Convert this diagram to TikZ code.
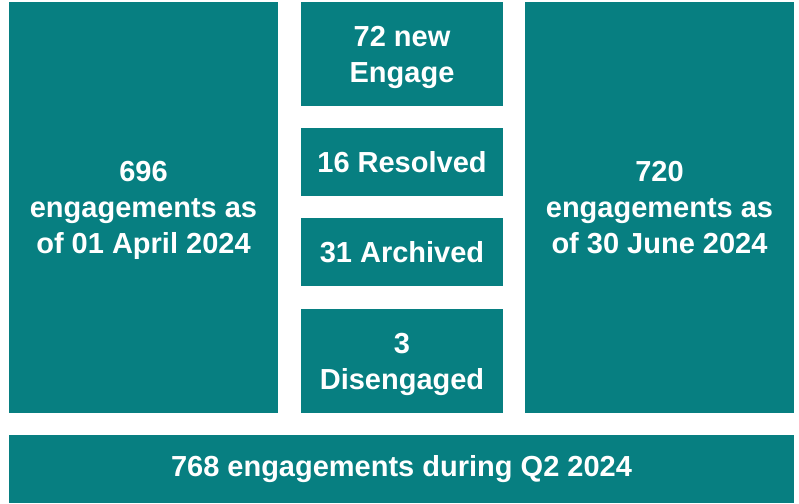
\documentclass[tikz,border=0pt]{standalone}
\usepackage{fontspec}
\setmainfont{Liberation Sans}
\definecolor{teal1}{HTML}{077F81}
\newcommand{\nodp}[1]{\raisebox{0pt}[\height][0pt]{#1}}
\begin{document}
\begin{tikzpicture}[x=1pt,y=-1pt,
  box/.style={fill=teal1, draw=none, inner sep=0pt, outer sep=0pt, align=center,
    text=white, font=\fontsize{29}{36}\selectfont\bfseries, anchor=center}]
\useasboundingbox (0,0) rectangle (799,503);
\node[box, minimum width=269pt, minimum height=411pt] (start) at (143.5,207.5) {696\\engagements as\\\nodp{of 01 April 2024}};
\node[box, minimum width=202pt, minimum height=104pt] (new) at (402,54) {72 new\\\nodp{Engage}};
\node[box, minimum width=202pt, minimum height=68pt] (res) at (402,162) {16 Resolved};
\node[box, minimum width=202pt, minimum height=68pt] (arch) at (402,252) {31 Archived};
\node[box, minimum width=202pt, minimum height=104pt] (dis) at (402,361) {3\\\nodp{Disengaged}};
\node[box, minimum width=269pt, minimum height=411pt] (end) at (659.5,207.5) {720\\engagements as\\of 30 June 2024};
\node[box, minimum width=785pt, minimum height=68pt] (total) at (401.5,469) {768 engagements during Q2 2024};
\end{tikzpicture}
\end{document}
